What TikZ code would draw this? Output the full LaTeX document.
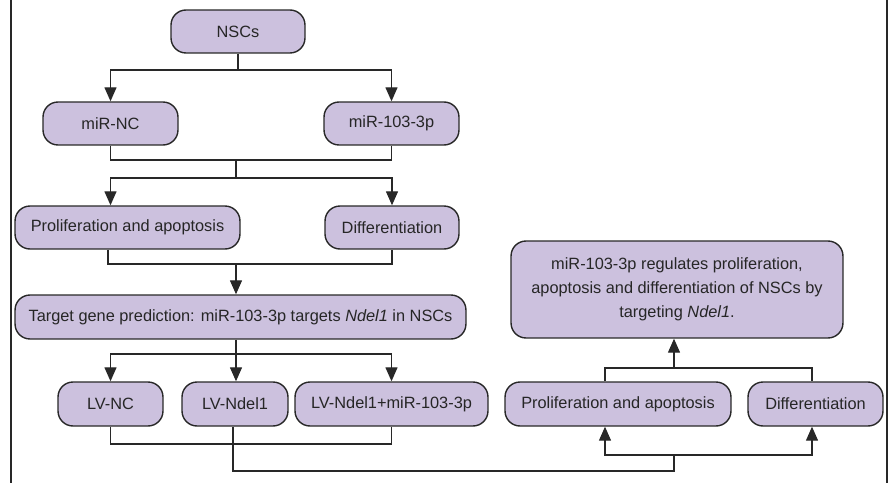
\documentclass[tikz,border=0pt]{standalone}
\usepackage{fontspec}
\setmainfont{Liberation Sans}
\usetikzlibrary{arrows.meta}
\definecolor{boxfill}{RGB}{204,193,222}
\definecolor{boxline}{RGB}{40,40,40}
\begin{document}
\begin{tikzpicture}[x=0.02cm,y=-0.02cm,
    box/.style={draw=boxline,fill=boxfill,line width=0.8pt,rounded corners=0.3cm,
      minimum height=0.86cm,inner sep=0pt,text=black!85,
      font=\fontsize{9.3}{13.6}\selectfont},
    link/.style={draw=boxline,line width=0.75pt},
    arr/.style={link,-{Triangle[length=0.28cm,width=0.24cm]}}]
  \useasboundingbox (0,0) rectangle (892,483);
  % side rules
  \draw[link] (11,0) -- (11,483);
  \draw[link] (887,0) -- (887,483);

  % left column
  \node[box,minimum width=2.68cm] (nscs) at (238,31.5) {NSCs};
  \node[box,minimum width=2.7cm] (mirnc) at (110.5,123.5) {miR-NC};
  \node[box,minimum width=2.7cm] (mir) at (391.5,123.5) {miR-103-3p};
  \node[box,minimum width=4.5cm] (prolif) at (127.5,227.5) {Proliferation and apoptosis};
  \node[box,minimum width=2.68cm] (diff) at (392,227.5) {Differentiation};
  \node[box,minimum width=9.02cm,minimum height=0.88cm] (target) at (240.5,317)
    {Target gene prediction: miR-103-3p targets \textit{Ndel1} in NSCs};
  \node[box,minimum width=2.1cm,minimum height=0.88cm] (lvnc) at (110.5,404) {LV-NC};
  \node[box,minimum width=2.12cm,minimum height=0.88cm] (lvndel) at (235,404) {LV-Ndel1};
  \node[box,minimum width=3.86cm,minimum height=0.88cm] (lvmix) at (391.5,404) {LV-Ndel1+miR-103-3p};

  % right column
  \node[box,minimum width=4.52cm,minimum height=0.88cm] (prolifR) at (618,404) {Proliferation and apoptosis};
  \node[box,minimum width=2.7cm,minimum height=0.88cm] (diffR) at (815.5,404) {Differentiation};
  \node[box,minimum width=6.64cm,minimum height=1.94cm,align=center] (concl) at (677,289.5)
    {miR-103-3p regulates proliferation,\\apoptosis and differentiation of NSCs by\\targeting \textit{Ndel1}.};

  % junctions
  \coordinate (j1) at (238,70);
  \coordinate (j2) at (236,160);
  \coordinate (j3) at (236,178);
  \coordinate (j4) at (236,264);
  \coordinate (j5) at (236,354);
  \coordinate (j6) at (674,471);
  \coordinate (j7) at (674,455);
  \coordinate (j8) at (674,368);
  \coordinate (pa) at (605,0);

  \draw[link] (nscs) -- (j1);
  \draw[arr] (j1) -| (mirnc.north);
  \draw[arr] (j1) -| (mir.north);

  \draw[link] (mirnc.south) |- (j2) -| (mir.south);
  \draw[link] (j2) -- (j3);
  \draw[arr] (j3) -| (mirnc |- prolif.north);
  \draw[arr] (j3) -| (diff.north);

  \draw[link] (prolif.south -| 108,0) |- (j4) -| (diff.south);
  \draw[arr] (j4) -- (j4 |- target.north);

  \draw[link] (target.south -| j5) -- (j5);
  \draw[arr] (j5) -| (lvnc.north);
  \draw[arr] (j5) -- (j5 |- lvndel.north);
  \draw[arr] (j5) -| (lvmix.north);

  \draw[link] (lvnc.south) -- ++(0,17.2) -| (lvmix.south);
  \draw[link] (lvndel.south -| 233,0) |- (j6) -- (j7);
  \draw[arr] (j7) -| (pa |- prolifR.south);
  \draw[arr] (j7) -| (812,0 |- diffR.south);

  \draw[link] (pa |- prolifR.north) |- (j8) -| (812,0 |- diffR.north);
  \draw[arr] (j8) -- (j8 |- concl.south);
\end{tikzpicture}
\end{document}
